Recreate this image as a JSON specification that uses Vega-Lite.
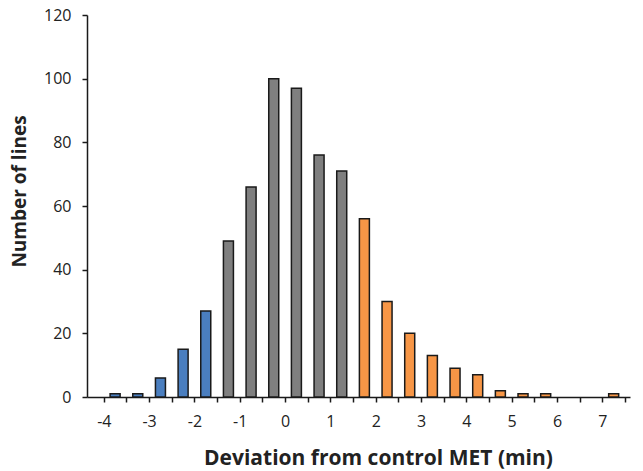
{
  "$schema": "https://vega.github.io/schema/vega-lite/v6.json",
  "autosize": "none",
  "width": 543,
  "height": 382,
  "padding": {"left": 87, "top": 15, "right": 13, "bottom": 74},
  "background": "white",
  "config": {"view": {"stroke": null}, "font": "Open Sans"},
  "data": {"values": [
    {"x": -3.75, "n": 1, "g": "low"},
    {"x": -3.25, "n": 1, "g": "low"},
    {"x": -2.75, "n": 6, "g": "low"},
    {"x": -2.25, "n": 15, "g": "low"},
    {"x": -1.75, "n": 27, "g": "low"},
    {"x": -1.25, "n": 49, "g": "mid"},
    {"x": -0.75, "n": 66, "g": "mid"},
    {"x": -0.25, "n": 100, "g": "mid"},
    {"x": 0.25, "n": 97, "g": "mid"},
    {"x": 0.75, "n": 76, "g": "mid"},
    {"x": 1.25, "n": 71, "g": "mid"},
    {"x": 1.75, "n": 56, "g": "high"},
    {"x": 2.25, "n": 30, "g": "high"},
    {"x": 2.75, "n": 20, "g": "high"},
    {"x": 3.25, "n": 13, "g": "high"},
    {"x": 3.75, "n": 9, "g": "high"},
    {"x": 4.25, "n": 7, "g": "high"},
    {"x": 4.75, "n": 2, "g": "high"},
    {"x": 5.25, "n": 1, "g": "high"},
    {"x": 5.75, "n": 1, "g": "high"},
    {"x": 7.25, "n": 1, "g": "high"}
  ]},
  "mark": {"type": "bar", "width": 10, "stroke": "#1a1a1a", "strokeWidth": 1.5},
  "encoding": {
    "x": {
      "field": "x", "type": "quantitative",
      "scale": {"domain": [-4.26, 7.5], "nice": false, "zero": false},
      "axis": {
        "values": [-4, -3.5, -3, -2.5, -2, -1.5, -1, -0.5, 0, 0.5, 1, 1.5, 2, 2.5, 3, 3.5, 4, 4.5, 5, 5.5, 6, 6.5, 7, 7.5],
        "labelExpr": "datum.value % 1 === 0 ? '' + datum.value : ''",
        "grid": false,
        "domainColor": "#1a1a1a", "domainWidth": 1.5,
        "tickColor": "#1a1a1a", "tickWidth": 1.5, "tickSize": 5,
        "labelFont": "Open Sans", "labelFontSize": 16, "labelColor": "#222", "labelPadding": 11,
        "title": "Deviation from control MET (min)",
        "titleFont": "Open Sans", "titleFontSize": 21, "titleFontWeight": "bold", "titleColor": "#222",
        "titlePadding": 18,
        "titleX": 291
      }
    },
    "y": {
      "field": "n", "type": "quantitative",
      "scale": {"domain": [0, 120], "nice": false},
      "axis": {
        "values": [0, 20, 40, 60, 80, 100, 120],
        "grid": false,
        "domainColor": "#1a1a1a", "domainWidth": 1.5,
        "tickColor": "#1a1a1a", "tickWidth": 1.5, "tickSize": 5,
        "labelFont": "Open Sans", "labelFontSize": 16, "labelColor": "#222", "labelPadding": 11,
        "title": "Number of lines",
        "titleFont": "Open Sans", "titleFontSize": 19, "titleFontWeight": "bold", "titleColor": "#222",
        "titlePadding": 14,
        "titleY": 176
      }
    },
    "fill": {
      "field": "g", "type": "nominal", "legend": null,
      "scale": {"domain": ["low", "mid", "high"], "range": ["#4a7ebf", "#7f7f7f", "#f79646"]}
    }
  }
}
